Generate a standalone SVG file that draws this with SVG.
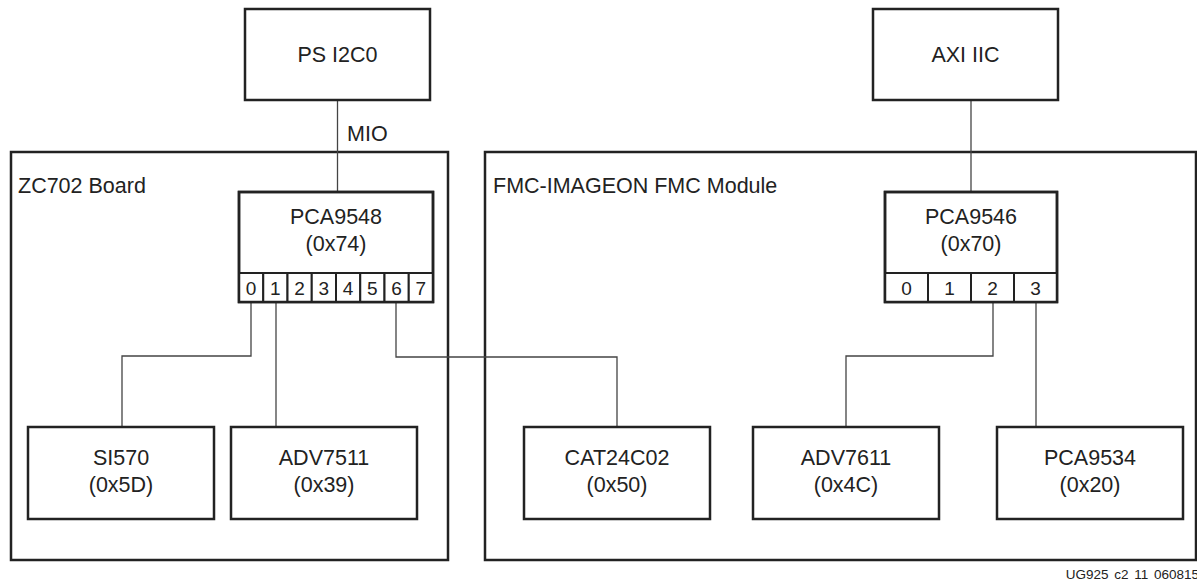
<svg xmlns="http://www.w3.org/2000/svg" width="1197" height="584" viewBox="0 0 1197 584">
<style>
.box{fill:#fff;stroke:#222;stroke-width:2.5}
.frame{fill:none;stroke:#222;stroke-width:2.5}
.cell{fill:#fff;stroke:#222;stroke-width:2}
.wire{fill:none;stroke:#444;stroke-width:1.3}
text{font-family:"Liberation Sans",Arial,sans-serif;fill:#222}
.t{font-size:21.5px;text-anchor:middle}
.l{font-size:21.5px}
.p{font-size:19px;text-anchor:middle}
.f{font-size:13.5px;text-anchor:end;word-spacing:2px}
</style>
<rect width="1197" height="584" fill="#fff"/>
<g id="zc702-board">
<rect class="frame" x="11" y="152" width="437" height="408"/>
<text class="l" x="18" y="193">ZC702 Board</text>
</g>
<g id="fmc-module">
<rect class="frame" x="485" y="152" width="711" height="408"/>
<text class="l" x="493" y="193">FMC-IMAGEON FMC Module</text>
</g>
<g id="connectors">
<path class="wire" d="M337.5 100V192"/>
<path class="wire" d="M971 100V192"/>
<path class="wire" d="M251 302V356H122V427"/>
<path class="wire" d="M276 302V427"/>
<path class="wire" d="M396 302V357H617V427"/>
<path class="wire" d="M993 302V356H846V427"/>
<path class="wire" d="M1036 302V427"/>
<text class="l" x="347" y="141">MIO</text>
</g>
<g id="ps-i2c0">
<rect class="box" x="245" y="9" width="185" height="91"/>
<text class="t" x="337.5" y="62">PS I2C0</text>
</g>
<g id="axi-iic">
<rect class="box" x="873" y="9" width="185" height="91"/>
<text class="t" x="965.5" y="62">AXI IIC</text>
</g>
<g id="pca9548">
<rect class="box" x="239" y="192" width="194" height="110"/>
<text class="t" x="336" y="224">PCA9548</text>
<text class="t" x="336" y="251">(0x74)</text>
<rect class="cell" x="239" y="273" width="24.25" height="29"/>
<rect class="cell" x="263.25" y="273" width="24.25" height="29"/>
<rect class="cell" x="287.5" y="273" width="24.25" height="29"/>
<rect class="cell" x="311.75" y="273" width="24.25" height="29"/>
<rect class="cell" x="336" y="273" width="24.25" height="29"/>
<rect class="cell" x="360.25" y="273" width="24.25" height="29"/>
<rect class="cell" x="384.5" y="273" width="24.25" height="29"/>
<rect class="cell" x="408.75" y="273" width="24.25" height="29"/>
<rect x="239" y="192" width="194" height="110" fill="none" stroke="#222" stroke-width="2.5"/>
<text class="p" x="251.1" y="294.5">0</text>
<text class="p" x="275.4" y="294.5">1</text>
<text class="p" x="299.6" y="294.5">2</text>
<text class="p" x="323.9" y="294.5">3</text>
<text class="p" x="348.1" y="294.5">4</text>
<text class="p" x="372.4" y="294.5">5</text>
<text class="p" x="396.6" y="294.5">6</text>
<text class="p" x="420.9" y="294.5">7</text>
</g>
<g id="pca9546">
<rect class="box" x="885" y="192" width="172" height="110"/>
<text class="t" x="971" y="224">PCA9546</text>
<text class="t" x="971" y="251">(0x70)</text>
<rect class="cell" x="885" y="273" width="43" height="29"/>
<rect class="cell" x="928" y="273" width="43" height="29"/>
<rect class="cell" x="971" y="273" width="43" height="29"/>
<rect class="cell" x="1014" y="273" width="43" height="29"/>
<rect x="885" y="192" width="172" height="110" fill="none" stroke="#222" stroke-width="2.5"/>
<text class="p" x="906.5" y="294.5">0</text>
<text class="p" x="949.5" y="294.5">1</text>
<text class="p" x="992.5" y="294.5">2</text>
<text class="p" x="1035.5" y="294.5">3</text>
</g>
<g id="si570">
<rect class="box" x="28" y="427" width="186" height="92"/>
<text class="t" x="121" y="465">SI570</text>
<text class="t" x="121" y="492">(0x5D)</text>
</g>
<g id="adv7511">
<rect class="box" x="231" y="427" width="186" height="92"/>
<text class="t" x="324" y="465">ADV7511</text>
<text class="t" x="324" y="492">(0x39)</text>
</g>
<g id="cat24c02">
<rect class="box" x="524" y="427" width="186" height="92"/>
<text class="t" x="617" y="465">CAT24C02</text>
<text class="t" x="617" y="492">(0x50)</text>
</g>
<g id="adv7611">
<rect class="box" x="753" y="427" width="186" height="92"/>
<text class="t" x="846" y="465">ADV7611</text>
<text class="t" x="846" y="492">(0x4C)</text>
</g>
<g id="pca9534">
<rect class="box" x="997" y="427" width="186" height="92"/>
<text class="t" x="1090" y="465">PCA9534</text>
<text class="t" x="1090" y="492">(0x20)</text>
</g>
<text class="f" x="1199" y="579">UG925 c2 11 060815</text>
</svg>
